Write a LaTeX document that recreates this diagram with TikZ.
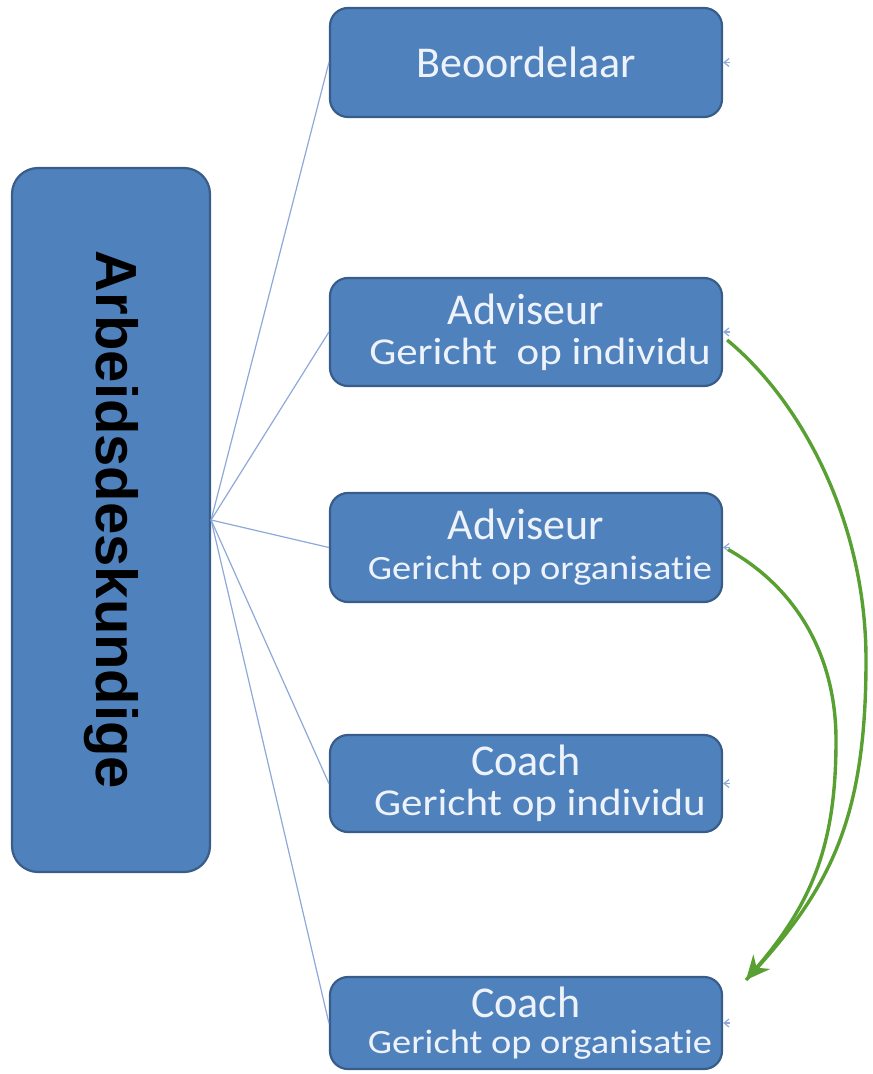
\documentclass[tikz,border=0pt]{standalone}
\usepackage{fontspec}
\setmainfont{Carlito}[Ligatures={NoCommon}]
\newfontfamily\arialfont{Liberation Sans}
\usetikzlibrary{arrows.meta}
\definecolor{boxblue}{HTML}{4F81BD}
\definecolor{boxline}{HTML}{385D8A}
\definecolor{boxtext}{HTML}{EEF3FB}
\definecolor{linkblue}{HTML}{8EA9D8}
\definecolor{arrowgreen}{RGB}{88,160,50}
\newcommand{\kop}[1]{{\fontsize{22}{20}\selectfont #1}}
\newcommand{\sub}[2]{{\fontsize{#1}{20}\selectfont\hspace*{14pt}\scalebox{1.13}[1]{#2}}}

\begin{document}
\begin{tikzpicture}[x=0.5pt,y=-0.5pt,
    rol/.style={draw=boxline, fill=boxblue, line width=1.1pt, rounded corners=9pt,
      minimum width=196pt, text=boxtext, align=center, inner sep=0pt,
      font=\fontsize{19}{20}\selectfont},
    link/.style={draw=linkblue, line width=0.6pt},
    stub/.style={draw=linkblue, line width=0.6pt, {Straight Barb[length=2.5pt,width=4pt]}-},
    overgang/.style={draw=arrowgreen, line width=1.7pt}]
            \useasboundingbox (0,0) rectangle (872,1074);
            \node[rol, minimum width=99pt, minimum height=352pt, rounded corners=13pt] (arb) at (111,520)
                {\rotatebox{-90}{\arialfont\bfseries\fontsize{29}{30}\selectfont\color{black}Arbeidsdeskundige}};
            \node[rol, minimum height=54.5pt] (beo) at (526,62.5) {\kop{Beoordelaar}};
            \node[rol, minimum height=54pt] (advi) at (526,332)
                {\kop{Adviseur}\\\sub{19}{Gericht\ \ op individu}};
            \node[rol, minimum height=54.5pt] (advo) at (526,547.5)
                {\kop{Adviseur}\\\sub{17}{Gericht op organisatie}};
            \node[rol, minimum height=48.5pt] (coai) at (526,783.5)
                {\kop{Coach}\\\sub{19}{Gericht op individu}};
            \node[rol, minimum height=46pt] (coao) at (526,1023)
                {\kop{Coach}\\[-2pt]\sub{17}{Gericht op organisatie}};
            % lijnen vanuit de arbeidsdeskundige
            \foreach \r in {beo,advi,advo,coai,coao}
                \draw[link] (arb.east) -- (\r.west);
            \foreach \r in {beo,advi,advo,coai,coao}
                \draw[stub] (\r.east) -- ++(7,0);
            \coordinate (tip) at (746,980);
            \draw[overgang] (advi.east) ++(4,8) .. controls (800,400) and (866,520) .. (866,660)
                .. controls (866,820) and (830,890) .. (tip);
            \draw[overgang, -{Stealth[length=12pt,width=11pt]}] (advo.east) ++(5,2) .. controls (800,590) and (836,660) .. (836,740)
                .. controls (836,840) and (815,900) .. (tip);
        \end{tikzpicture}
\end{document}
